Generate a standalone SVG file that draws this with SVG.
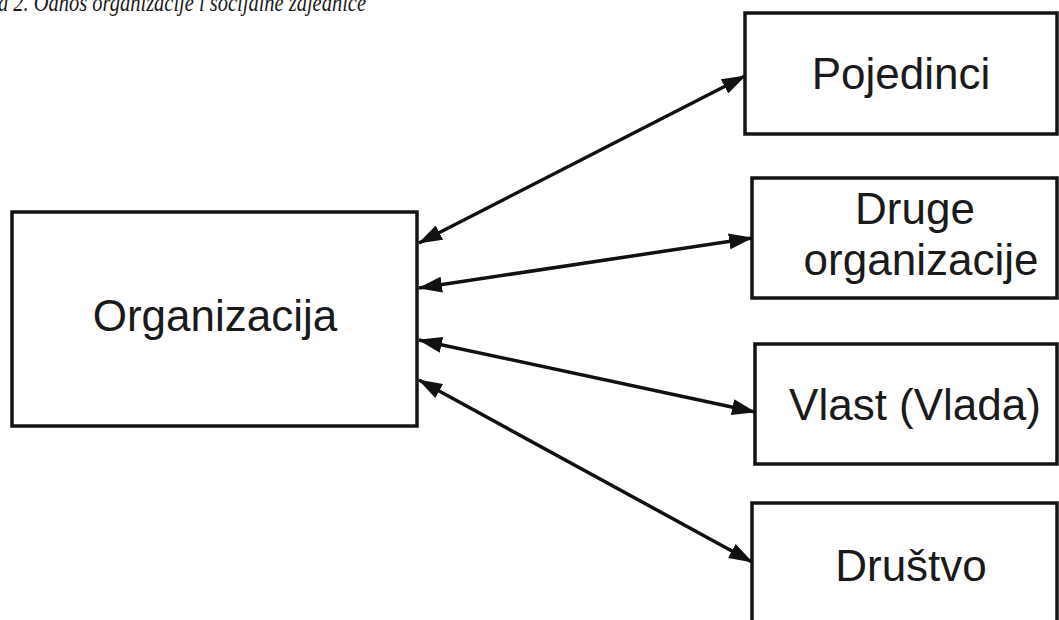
<svg xmlns="http://www.w3.org/2000/svg" width="1059" height="620" viewBox="0 0 1059 620">
  <style>
    .box { fill: #ffffff; stroke: #141414; stroke-width: 3.5; }
    .lbl { font-family: "Liberation Sans", Arial, sans-serif; font-size: 44px; fill: #1a1a1a; }
    .cap { font-family: "Liberation Serif", "Times New Roman", serif; font-style: italic; font-size: 26px; fill: #1a1a1a; }
    .conn { stroke: #111111; stroke-width: 3.5; fill: none; marker-start: url(#ah); marker-end: url(#ah); }
  </style>
  <defs>
    <marker id="ah" viewBox="0 0 24 16" refX="23" refY="8" markerWidth="24" markerHeight="16" markerUnits="userSpaceOnUse" orient="auto-start-reverse">
      <path d="M0,0 L24,8 L0,16 Z" fill="#111111"/>
    </marker>
  </defs>
  <rect width="1059" height="620" fill="#ffffff"/>
  <text class="cap" x="-2" y="10.5" textLength="368" lengthAdjust="spacingAndGlyphs">a 2. Odnos organizacije i socijalne zajednice</text>

  <g id="organizacija">
    <rect class="box" x="12" y="212" width="405" height="214"/>
    <text class="lbl" x="215" y="331" text-anchor="middle">Organizacija</text>
  </g>
  <g id="pojedinci">
    <rect class="box" x="745" y="13" width="312" height="121"/>
    <text class="lbl" x="901" y="89" text-anchor="middle">Pojedinci</text>
  </g>
  <g id="druge-organizacije">
    <rect class="box" x="752" y="178" width="305" height="120"/>
    <text class="lbl" x="915" y="224" text-anchor="middle">Druge</text>
    <text class="lbl" x="921" y="275" text-anchor="middle">organizacije</text>
  </g>
  <g id="vlast">
    <rect class="box" x="755" y="344" width="302" height="120"/>
    <text class="lbl" x="915" y="420" text-anchor="middle">Vlast (Vlada)</text>
  </g>
  <g id="drustvo">
    <rect class="box" x="752" y="503" width="305" height="130"/>
    <text class="lbl" x="911" y="581" text-anchor="middle">Društvo</text>
  </g>

  <g id="connectors">
    <line class="conn" x1="419" y1="243" x2="745" y2="76"/>
    <line class="conn" x1="419" y1="288" x2="752" y2="238"/>
    <line class="conn" x1="419" y1="340" x2="755" y2="412"/>
    <line class="conn" x1="419" y1="380" x2="752" y2="562"/>
  </g>
</svg>
